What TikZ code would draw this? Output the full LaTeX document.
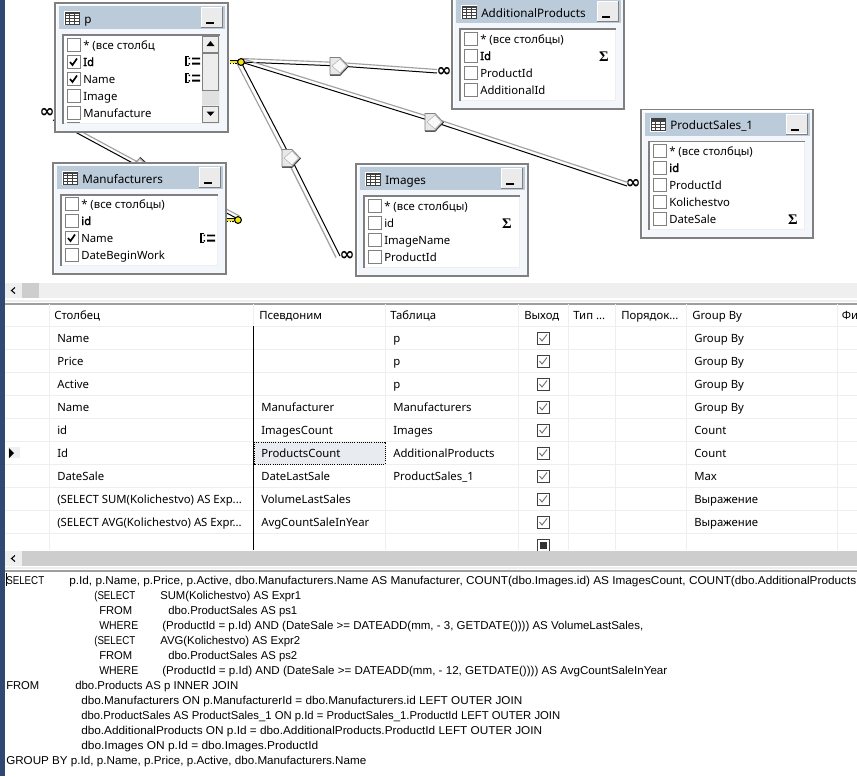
\documentclass[tikz,border=0pt]{standalone}
\usepackage{fontspec}
\setmainfont{Noto Sans}
\newfontfamily\uiboldf{Noto Sans}[FakeBold=2]
\newfontfamily\sqlfont{Liberation Sans}
\newfontfamily\sigfont{Liberation Serif}
\newfontfamily\inffont{DejaVu Sans}
\definecolor{titlebar}{HTML}{BCCBDA}
\definecolor{winbg}{HTML}{F3F6FB}
\definecolor{frameg}{HTML}{808080}
\definecolor{gridl}{HTML}{EEEEEE}
\definecolor{strip}{HTML}{2E4A72}
\definecolor{relg}{HTML}{A0A0A0}
\definecolor{sbg}{HTML}{EFEFEF}
\definecolor{sbd}{HTML}{CDCDCD}
\definecolor{selc}{HTML}{E8ECF0}
\definecolor{keyy}{HTML}{F5E60A}
\newcommand\exprsum{(SELECT SUM(Kolichestvo) AS Exp...}
\newcommand\expravg{(SELECT AVG(Kolichestvo) AS Expr...}
\tikzset{
  ui/.style={anchor=base west,inner sep=0pt,font=\fontsize{8.5pt}{10pt}\selectfont,text=black},
  uib/.style={ui,font=\fontsize{8.5pt}{10pt}\uiboldf},
  titletext/.style={ui,font=\fontsize{8.75pt}{11pt}\selectfont},
  sql/.style={anchor=base west,inner sep=0pt,font=\fontsize{8.55pt}{10pt}\sqlfont},
  sigma/.style={inner sep=0pt,font=\fontsize{11pt}{11pt}\sigfont\bfseries},
  infn/.style={inner sep=0pt,font=\fontsize{13.5pt}{13.5pt}\inffont\bfseries},
  cbox/.style={draw=frameg,fill=white,line width=0.6pt},
  gridline/.style={draw=gridl,line width=0.75pt},
  winframe/.style={draw=frameg,fill=winbg,line width=1.1pt},
}
% SQL text: #1 name, #2 x, #3 baseline y, #4 width in pixels, #5 text
\newcommand\sqlt[5]{\node[sql] (#1) at (#2,#3) {\resizebox{\dimexpr #4pt*3/4\relax}{\height}{#5}};}
% double relation line: black from a to b, grey shifted by (#3,#4)
\newcommand\relline[4]{%
  \draw[relg,line width=.85pt] ([shift={(#3,#4)}]#1) -- ([shift={(#3,#4)}]#2);
  \draw[black,line width=0.75pt] (#1) -- (#2);}
\newcommand\reldia[3][0]{%
  \begin{scope}[shift={(#2,#3)},rotate=#1]
  \draw[black,line width=1pt] (-9,8.9) -- (1,8.9) -- (9.4,0);
  \draw[frameg,fill=gray!18,line width=.6pt] (-9,-8.5) -- (1,-8.5) -- (9,0) -- (1,8.5) -- (-9,8.5) -- cycle;
  \draw[gray!60,fill=gray!5,line width=.4pt] (-7,0) -- (1,-7) -- (7.5,0) -- (1,7) -- cycle;
  \end{scope}}
\newcommand\relkey[2]{%
  \fill[keyy] (#1-11,#2-1.6) rectangle (#1-2,#2+1);
  \draw[black,line width=.6pt] (#1-11,#2-1.8) -- (#1-3,#2-1.8);
  \draw[black,line width=.8pt,dash pattern=on 1pt off 1pt] (#1-11,#2+1.5) -- (#1-3,#2+1.5);
  \draw[black,fill=keyy,line width=.8pt] (#1,#2) circle[radius=3.4];}
\newcommand\tblicon[2]{%
  \fill[white] (#1-1,#2-1) rectangle (#1+15,#2+13);
  \draw[black!75,line width=.6pt] (#1,#2) rectangle (#1+14,#2+12);
  \draw[black!75,line width=.6pt] (#1,#2+3) -- ++(14,0) (#1,#2+6) -- ++(14,0) (#1,#2+9) -- ++(14,0)
     (#1+4.6,#2) -- ++(0,12) (#1+9.3,#2) -- ++(0,12);
  \fill[black!75] (#1,#2) rectangle (#1+14,#2+2);}
\newcommand\minbtn[4]{%
  \fill[frameg] (#1,#2) rectangle (#3+1,#4+1);
  \fill[white] (#1,#2) rectangle (#3,#4);
  \fill[black!8] (#1+1,#2+1) rectangle (#3-.5,#4-.5);
  \fill[black] (#1+5,#4-5) rectangle (#1+13,#4-3);}
% #1 id, #2 x0, #3 y0, #4 x1, #5 y1, #6 title
\newcommand\dbtable[6]{%
  \draw[winframe] (#2,#3) rectangle (#4,#5);
  \draw[white,line width=1pt] (#2+1.5,#5-1.5) -- (#2+1.5,#3+1.5) -- (#4-1.5,#3+1.5);
  \fill[titlebar] (#2+3.5,#3+3) rectangle (#4-3,#3+26);
  \tblicon{#2+10}{#3+9}
  \node[titletext] (#1-title) at (#2+29,#3+20) {#6};
  \minbtn{#4-27}{#3+4}{#4-6}{#3+24}
  \fill[white] (#2+8,#3+32) rectangle (#4-8,#5-8);
  \draw[gridl,line width=.8pt] (#2+9,#5-8.5) -- (#4-8.5,#5-8.5) -- (#4-8.5,#3+32);
  \draw[frameg,line width=1pt] (#2+8,#5-8) -- (#2+8,#3+32) -- (#4-8,#3+32);}
% #1 id, #2 box x, #3 centre y, #4 text, #5 checked 0/1, #6 style
\newcommand\dbrow[6]{%
  \draw[cbox] (#2,#3-6.5) rectangle (#2+13,#3+6.5);
  \ifnum#5=1 \draw[black,line width=1.25pt] (#2+3,#3) -- (#2+5.5,#3+3) -- (#2+10,#3-3.5);\fi
  \node[#6] (#1) at (#2+16,#3+4) {#4};}
\newcommand\grpicon[2]{%
  \draw[black,line width=.8pt] (#1+2.5,#2-4.5) -- (#1,#2-4.5) -- (#1,#2+4.5) -- (#1+2.5,#2+4.5);
  \fill[black] (#1+2.5,#2-3.5) rectangle (#1+4,#2-2) (#1+2.5,#2+2) rectangle (#1+4,#2+3.5);
  \fill[black] (#1+6,#2-3.5) rectangle (#1+14,#2-1.7) (#1+6,#2+1.7) rectangle (#1+14,#2+3.5);}
\newcommand\grcheck[3]{%
  \draw[black!75,fill=white,line width=.7pt] (#1,#2-6) rectangle (#1+12,#2+6);
  \ifnum#3=1 \draw[black!55,line width=.7pt] (#1+2.5,#2) -- (#1+5,#2+3) -- (#1+10,#2-3.5);\fi}
\begin{document}
\begin{tikzpicture}[x=0.75pt,y=-0.75pt]
\useasboundingbox (0,0) rectangle (857,776);
\clip (0,0) rectangle (857,776);
\fill[white] (0,0) rectangle (857,776);
\fill[strip] (0,0) rectangle (4.5,776);

% --- connectors
\coordinate (keyP) at (241,62);
\coordinate (keyM) at (238,219);
\coordinate (d1) at (339,66);
\coordinate (d2) at (434,122);
\coordinate (d3) at (291,158);
\coordinate (d4) at (140,167);
\node[infn] (inf1) at (444,71.5) {∞};
\node[infn] (inf2) at (633,183.5) {∞};
\node[infn] (inf3) at (347,256) {∞};
\node[infn] (inf4) at (47,112.5) {∞};
\coordinate (e1) at (437,73);
\coordinate (e2) at (627,186);
\coordinate (e3) at (340,256);
\coordinate (e4) at (53,120);
\relline{keyP}{d1}{0}{-3.5}
\relline{d1}{e1}{0}{-3.5}
\relline{keyP}{d2}{1}{-3.5}
\relline{d2}{e2}{1}{-3.5}
\relline{keyP}{d3}{-4}{1.5}
\relline{d3}{e3}{-4}{1.5}
\relline{e4}{d4}{1.5}{-3}
\relline{d4}{keyM}{1.5}{-3}
\reldia{339}{66}
\reldia{434}{122}
\reldia{291}{158}
\reldia[90]{140}{167}
\relkey{241}{62}
\relkey{238}{220}

% --- table p
\dbtable{p}{55}{3}{228}{132}{p}
\dbrow{pa}{67}{45}{* (все столбц}{0}{ui}
\dbrow{pb}{67}{62}{Id}{1}{uib}
\dbrow{pc}{67}{79}{Name}{1}{ui}
\dbrow{pd}{67}{96}{Image}{0}{ui}
\dbrow{pe}{67}{113}{Manufacture}{0}{ui}
\draw[cbox] (67,122.5) -- (80,122.5);
\grpicon{186}{61}
\grpicon{186}{78}
\fill[black!8] (202,36) rectangle (219,123);
\fill[black!15,opacity=.6] (202,91) rectangle (219,105);
\foreach \a/\b in {36/52,53/90,106/122}{
  \draw[frameg,fill=black!7,line width=.6pt] (202.5,\a) rectangle (218.5,\b);}
\fill[black] (210.5,41) -- (214.5,46) -- (206.5,46) -- cycle;
\fill[black] (210.5,116) -- (214.5,111.5) -- (206.5,111.5) -- cycle;

% --- table Manufacturers
\dbtable{m}{53}{163}{226}{274}{Manufacturers}
\dbrow{ma}{65}{204}{* (все столбцы)}{0}{ui}
\dbrow{mb}{65}{221}{id}{0}{uib}
\dbrow{mc}{65}{238}{Name}{1}{ui}
\dbrow{md}{65}{255}{DateBeginWork}{0}{ui}
\grpicon{201}{238}

% --- table AdditionalProducts
\dbtable{ap}{452}{-3}{624}{109}{AdditionalProducts}
\dbrow{apa}{464}{39}{* (все столбцы)}{0}{ui}
\dbrow{apb}{464}{56}{Id}{0}{uib}
\dbrow{apc}{464}{73}{ProductId}{0}{ui}
\dbrow{apd}{464}{90}{AdditionalId}{0}{ui}
\node[sigma] (apsum) at (604,57) {Σ};

% --- table ProductSales_1
\dbtable{ps}{641}{109.5}{813}{238}{ProductSales\_1}
\dbrow{psa}{653}{151}{* (все столбцы)}{0}{ui}
\dbrow{psb}{653}{168}{id}{0}{uib}
\dbrow{psc}{653}{185}{ProductId}{0}{ui}
\dbrow{psd}{653}{202}{Kolichestvo}{0}{ui}
\dbrow{pse}{653}{219}{DateSale}{0}{ui}
\node[sigma] (pssum) at (793,220) {Σ};

% --- table Images
\dbtable{im}{356}{164}{528}{276}{Images}
\dbrow{ima}{368}{206}{* (все столбцы)}{0}{ui}
\dbrow{imb}{368}{223}{id}{0}{ui}
\dbrow{imc}{368}{240}{ImageName}{0}{ui}
\dbrow{imd}{368}{257}{ProductId}{0}{ui}
\node[sigma] (imsum) at (507,224) {Σ};

% --- upper scroll bar
\fill[sbg] (5,283) rectangle (857,298);
\fill[sbd] (22,283) rectangle (39,298);
\draw[black,line width=.8pt] (15,287.5) -- (11.5,290.5) -- (15,293.5);
\fill[gridl] (5,300) rectangle (857,301.5);
\fill[black!38] (5,303) rectangle (857,304.5);

% --- criteria grid
\foreach \y in {326,349,372,395,418,441,464,487,510,533}{
  \draw[gridline] (5,\y) -- (857,\y);}
\foreach \x in {49,253,385,518,568,615.5,686.5,837}{
  \draw[gridline] (\x,304) -- (\x,550);}
\draw[black,line width=.9pt] (253.5,326) -- (253.5,550);
\fill[selc] (254,442) rectangle (385,464);
\draw[black,line width=.6pt,densely dotted] (254,442) rectangle (385,464);
\fill[black!6] (8,447) rectangle (20,458);
\fill[black] (9,448) -- (14,453) -- (9,458) -- cycle;

\node[ui] (h1) at (54,319) {Столбец};
\node[ui] (h2) at (259,319) {Псевдоним};
\node[ui] (h3) at (390,319) {Таблица};
\node[ui] (h4) at (524,319) {Выход};
\node[ui] (h5) at (573,319) {Тип {.}{.}{.}};
\node[ui] (h6) at (621,319) {Порядок{.}{.}{.}};
\node[ui] (h7) at (692,319) {Group By};
\node[ui] (h8) at (841.5,319) {Фи};

\foreach \n/\c/\a/\t [count=\i] in {
  Name//p/Group By,
  Price//p/Group By,
  Active//p/Group By,
  Name/Manufacturer/Manufacturers/Group By,
  id/ImagesCount/Images/Count,
  Id/ProductsCount/AdditionalProducts/Count,
  DateSale/DateLastSale/ProductSales\_1/Max,
  \exprsum/VolumeLastSales//Выражение,
  \expravg/AvgCountSaleInYear//Выражение}{
  \pgfmathsetmacro\ry{315+23*\i}
  \node[ui] (c\i) at (57,\ry+4) {\n};
  \node[ui] (al\i) at (261,\ry+4) {\c};
  \node[ui] (tb\i) at (393,\ry+4) {\a};
  \node[ui] (gb\i) at (694,\ry+4) {\t};
  \grcheck{537}{\ry}{1}
}
\begin{scope}
\clip (530,534) rectangle (560,550);
\grcheck{537}{545}{0}
\fill[black!80] (539.5,541.5) rectangle (546.5,548.5);
\end{scope}

% --- lower scroll bar
\fill[sbd] (5,551) rectangle (857,566);
\fill[sbg] (5,551) rectangle (22,566);
\draw[black,line width=.8pt] (15,555.5) -- (11.5,558.5) -- (15,561.5);
\fill[gridl] (5,567) rectangle (857,569);
\fill[black!38] (5,570) rectangle (857,571.5);

% --- SQL pane
\draw[black,line width=.7pt] (6.5,573) -- (6.5,586);
\sqlt{s1a}{6}{584.5}{38}{SELECT}
\sqlt{s1b}{69}{584.5}{787}{p.Id, p.Name, p.Price, p.Active, dbo.Manufacturers.Name AS Manufacturer, COUNT(dbo.Images.id) AS ImagesCount, COUNT(dbo.AdditionalProducts}
\sqlt{s2a}{94}{599.5}{41}{(SELECT}
\sqlt{s2b}{160}{599.5}{141}{SUM(Kolichestvo) AS Expr1}
\sqlt{s3a}{99}{614.5}{33}{FROM}
\sqlt{s3b}{168}{614.5}{129}{dbo.ProductSales AS ps1}
\sqlt{s4a}{99}{629.5}{39}{WHERE}
\sqlt{s4b}{162}{629.5}{481}{(ProductId = p.Id) AND (DateSale >= DATEADD(mm, - 3, GETDATE()))) AS VolumeLastSales,}
\sqlt{s5a}{94}{644.5}{41}{(SELECT}
\sqlt{s5b}{160}{644.5}{140}{AVG(Kolichestvo) AS Expr2}
\sqlt{s6a}{99}{659.5}{33}{FROM}
\sqlt{s6b}{168}{659.5}{129}{dbo.ProductSales AS ps2}
\sqlt{s7a}{99}{674.5}{39}{WHERE}
\sqlt{s7b}{162}{674.5}{505}{(ProductId = p.Id) AND (DateSale >= DATEADD(mm, - 12, GETDATE()))) AS AvgCountSaleInYear}
\sqlt{s8a}{6}{689.5}{33}{FROM}
\sqlt{s8b}{75}{689.5}{163}{dbo.Products AS p INNER JOIN}
\sqlt{s9}{81}{704.5}{441}{dbo.Manufacturers ON p.ManufacturerId = dbo.Manufacturers.id LEFT OUTER JOIN}
\sqlt{s10}{81}{719.5}{479}{dbo.ProductSales AS ProductSales\_1 ON p.Id = ProductSales\_1.ProductId LEFT OUTER JOIN}
\sqlt{s11}{81}{734.5}{461}{dbo.AdditionalProducts ON p.Id = dbo.AdditionalProducts.ProductId LEFT OUTER JOIN}
\sqlt{s12}{81}{749.5}{237}{dbo.Images ON p.Id = dbo.Images.ProductId}
\sqlt{s13}{6}{764.5}{360}{GROUP BY p.Id, p.Name, p.Price, p.Active, dbo.Manufacturers.Name}
\end{tikzpicture}
\end{document}
